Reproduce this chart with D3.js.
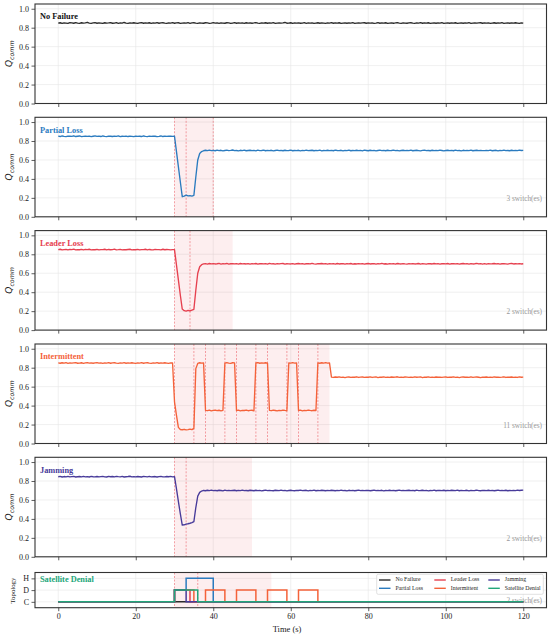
<!DOCTYPE html>
<html>
<head>
<meta charset="utf-8">
<script src="https://cdn.jsdelivr.net/npm/d3@7"></script>
<style>
body { margin: 0; background: #fff; }
svg { display: block; font-family: "Liberation Serif", "Times New Roman", serif; }
</style>
</head>
<body>
<div id="chart"></div>
<script>
// sampling grid of the simulation (s)
var timeSec = d3.range(0, 120.5, 0.5);

// Q_comm per scenario, one value per 0.5 s (rows of 10 s)
var qNoFailure = [
.848,.852,.846,.851,.849,.845,.853,.850,.847,.854,.849,.846,.852,.848,.851,.857,.849,.846,.850,.853,
.847,.851,.849,.845,.852,.848,.850,.854,.847,.849,.853,.846,.850,.848,.855,.849,.846,.851,.848,.852,
.849,.845,.851,.853,.847,.850,.848,.852,.846,.851,.849,.854,.847,.850,.852,.848,.845,.851,.849,.853,
.847,.850,.852,.846,.849,.851,.848,.853,.846,.850,.852,.848,.845,.851,.849,.847,.852,.850,.846,.849,
.853,.848,.850,.846,.851,.849,.847,.852,.850,.845,.849,.853,.847,.851,.848,.850,.846,.852,.849,.851,
.847,.850,.854,.848,.846,.851,.849,.852,.847,.850,.848,.853,.846,.849,.851,.848,.850,.855,.847,.849,
.852,.846,.850,.848,.851,.847,.849,.853,.846,.850,.848,.851,.845,.849,.852,.847,.850,.848,.846,.851,
.849,.853,.847,.850,.848,.852,.846,.849,.851,.847,.850,.848,.853,.846,.849,.851,.848,.850,.852,.847,
.850,.848,.851,.846,.849,.853,.847,.850,.848,.852,.846,.849,.851,.847,.850,.854,.848,.846,.851,.849,
.847,.850,.852,.848,.846,.851,.849,.853,.847,.850,.848,.852,.846,.849,.851,.847,.850,.848,.853,.846,
.849,.851,.847,.850,.848,.852,.846,.849,.851,.847,.850,.848,.853,.846,.849,.851,.848,.850,.852,.847,
.850,.848,.851,.846,.849,.852,.847,.850,.848,.853,.846,.849,.851,.847,.850,.848,.852,.849,.846,.851,
.849];

var qPartialLoss = [
.851,.847,.853,.849,.846,.852,.850,.848,.855,.847,.850,.853,.846,.849,.852,.848,.851,.846,.850,.854,
.848,.851,.847,.853,.849,.846,.852,.850,.847,.851,.849,.854,.846,.850,.848,.852,.847,.851,.849,.846,
.852,.848,.850,.847,.853,.849,.846,.851,.848,.852,.850,.846,.849,.853,.847,.851,.848,.850,.852,.848,
.850,.690,.530,.370,.212,.218,.228,.220,.224,.219,.226,.420,.600,.668,.688,.697,.702,.698,.703,.699,
.701,.697,.704,.699,.702,.696,.700,.703,.698,.701,.705,.698,.700,.696,.702,.699,.703,.697,.700,.702,
.698,.701,.696,.703,.699,.700,.704,.697,.701,.698,.702,.696,.700,.703,.698,.701,.697,.702,.699,.700,
.703,.697,.700,.698,.702,.696,.701,.699,.704,.698,.700,.702,.697,.701,.699,.703,.696,.700,.698,.702,
.699,.701,.697,.703,.700,.698,.702,.696,.701,.699,.704,.697,.700,.698,.702,.699,.701,.696,.703,.700,
.697,.702,.699,.701,.696,.700,.703,.698,.701,.697,.702,.699,.700,.704,.698,.701,.696,.700,.702,.699,
.701,.698,.703,.697,.700,.702,.699,.696,.701,.703,.698,.700,.697,.702,.699,.701,.698,.703,.700,.696,
.700,.702,.698,.701,.697,.703,.699,.700,.696,.702,.698,.701,.699,.704,.697,.700,.702,.698,.701,.699,
.698,.701,.699,.703,.697,.700,.702,.696,.701,.699,.703,.698,.700,.697,.702,.699,.701,.698,.704,.700,
.701];

var qLeaderLoss = [
.849,.853,.847,.850,.852,.846,.851,.849,.854,.847,.850,.848,.852,.846,.851,.849,.853,.847,.850,.848,
.852,.846,.850,.849,.853,.847,.851,.848,.850,.854,.847,.849,.852,.846,.850,.848,.851,.853,.847,.850,
.848,.852,.846,.850,.849,.853,.847,.851,.848,.846,.852,.849,.850,.847,.853,.848,.851,.849,.846,.850,
.850,.690,.530,.370,.222,.205,.200,.208,.202,.210,.218,.420,.600,.668,.690,.698,.702,.697,.703,.699,
.702,.698,.700,.704,.697,.701,.699,.703,.696,.700,.702,.698,.701,.697,.703,.699,.700,.698,.702,.696,
.701,.699,.703,.697,.700,.702,.698,.701,.696,.704,.699,.700,.697,.702,.698,.701,.703,.697,.700,.699,
.698,.702,.697,.700,.703,.699,.701,.696,.700,.702,.698,.704,.699,.697,.701,.700,.703,.698,.701,.697,
.702,.699,.701,.697,.703,.698,.700,.702,.696,.701,.699,.703,.697,.700,.698,.702,.699,.701,.696,.700,
.703,.698,.700,.702,.697,.701,.699,.704,.698,.700,.696,.702,.699,.701,.697,.703,.700,.698,.702,.699,
.697,.701,.699,.702,.698,.700,.703,.697,.701,.699,.696,.702,.700,.698,.703,.699,.701,.697,.700,.702,
.699,.703,.697,.700,.702,.698,.701,.696,.700,.703,.699,.701,.697,.702,.698,.700,.704,.698,.701,.697,
.701,.697,.702,.699,.700,.703,.698,.701,.697,.700,.702,.699,.696,.701,.703,.698,.700,.699,.702,.698,
.700];

var qIntermittent = [
.850,.847,.852,.849,.853,.846,.850,.848,.851,.854,.847,.849,.852,.846,.850,.853,.848,.851,.847,.850,
.853,.848,.850,.846,.851,.849,.854,.847,.850,.852,.848,.846,.851,.849,.853,.847,.850,.848,.852,.849,
.846,.851,.849,.853,.847,.850,.852,.848,.846,.851,.849,.854,.847,.850,.848,.852,.849,.846,.851,.850,
.440,.300,.170,.148,.145,.150,.143,.147,.152,.146,.160,.790,.845,.852,.848,.851,.350,.346,.352,.344,
.349,.353,.347,.351,.345,.350,.848,.853,.849,.846,.852,.850,.347,.352,.344,.350,.348,.353,.346,.349,
.351,.345,.850,.853,.847,.851,.849,.852,.848,.350,.346,.352,.348,.344,.350,.347,.353,.349,.346,.851,
.848,.853,.849,.851,.348,.352,.345,.350,.347,.353,.349,.346,.351,.348,.850,.847,.852,.849,.853,.848,
.851,.700,.697,.702,.699,.703,.698,.701,.696,.700,.702,.698,.701,.699,.704,.697,.700,.702,.698,.701,
.699,.703,.697,.700,.702,.696,.701,.699,.703,.698,.700,.697,.702,.699,.701,.704,.698,.700,.697,.702,
.700,.698,.701,.697,.703,.699,.700,.702,.696,.701,.699,.703,.698,.700,.697,.702,.699,.701,.698,.700,
.702,.697,.700,.699,.703,.698,.701,.696,.700,.702,.699,.701,.697,.703,.698,.700,.702,.699,.696,.701,
.699,.702,.698,.700,.697,.703,.699,.701,.698,.700,.704,.697,.701,.699,.702,.698,.700,.697,.703,.699,
.700];

var qJamming = [
.845,.848,.842,.847,.844,.849,.843,.846,.848,.842,.845,.847,.843,.849,.844,.846,.842,.848,.845,.843,
.847,.843,.846,.849,.844,.842,.848,.845,.847,.843,.849,.846,.844,.848,.842,.845,.847,.850,.844,.846,
.843,.847,.845,.842,.848,.846,.844,.849,.843,.845,.847,.842,.846,.848,.844,.843,.847,.845,.849,.844,
.845,.720,.585,.455,.335,.338,.345,.349,.354,.360,.372,.520,.640,.680,.694,.700,.697,.702,.699,.703,
.698,.701,.697,.702,.700,.696,.703,.699,.701,.698,.700,.702,.697,.701,.699,.704,.698,.700,.697,.702,
.700,.697,.702,.699,.701,.696,.700,.703,.698,.701,.699,.697,.702,.700,.698,.703,.699,.701,.696,.700,
.702,.699,.697,.701,.700,.703,.698,.700,.702,.696,.701,.699,.703,.697,.700,.698,.702,.700,.697,.701,
.699,.702,.700,.697,.701,.699,.703,.698,.700,.696,.702,.699,.701,.697,.700,.703,.698,.701,.699,.700,
.701,.697,.700,.703,.698,.701,.699,.702,.696,.700,.698,.702,.699,.701,.697,.700,.703,.699,.701,.698,
.700,.702,.698,.701,.697,.703,.699,.700,.702,.698,.701,.696,.700,.699,.703,.697,.701,.700,.698,.702,
.697,.701,.699,.702,.700,.698,.703,.697,.701,.699,.700,.702,.696,.701,.698,.700,.703,.699,.697,.701,
.700,.698,.702,.699,.701,.697,.700,.703,.698,.701,.699,.702,.697,.700,.698,.701,.699,.703,.700,.702,
.703];

// active topology (C, D, H) per scenario as [time, level] change points
var topoNoFailure    = [[0,"C"],[120,"C"]];
var topoPartialLoss  = [[0,"C"],[30,"D"],[33,"H"],[40,"C"],[120,"C"]];
var topoLeaderLoss   = [[0,"C"],[30,"D"],[34,"C"],[120,"C"]];
var topoIntermittent = [[0,"C"],[30,"D"],[35,"C"],[38,"D"],[43,"C"],[46,"D"],[51,"C"],[54,"D"],[59,"C"],[62,"D"],[67,"C"],[120,"C"]];
var topoJamming      = [[0,"C"],[30,"D"],[33,"C"],[120,"C"]];
var topoSatellite    = [[0,"C"],[30,"D"],[36,"C"],[120,"C"]];

var scenarioNames  = ["No Failure", "Partial Loss", "Leader Loss", "Intermittent", "Jamming", "Satellite Denial"];
var scenarioColors = ["#2b2b2b", "#2b7bbf", "#e6404f", "#f4623a", "#483b9a", "#22a67a"];
var failureWindows = [null, [30, 40], [30, 45], [30, 70], [30, 50], [30, 55]];
var switchTimes    = [[], [30, 33, 40], [30, 34], [30, 35, 38, 43, 46, 51, 54, 59, 62, 67], [30, 33], [30, 36]];
var switchCounts   = [null, 3, 2, 11, 2, 2];

var xTicks = [0, 20, 40, 60, 80, 100, 120];
var qTicks = [0, 0.2, 0.4, 0.6, 0.8, 1.0];
var topoTicks = ["C", "D", "H"];

var qSeries = [qNoFailure, qPartialLoss, qLeaderLoss, qIntermittent, qJamming];
var topoSeries = [topoNoFailure, topoPartialLoss, topoLeaderLoss, topoIntermittent, topoJamming, topoSatellite];

var width = 550, height = 637;
var svg = d3.select("#chart").append("svg")
    .attr("width", width)
    .attr("height", height);

var x = d3.scaleLinear().domain([-6, 126]).range([35, 546.5]);
var panelTops = [4, 117.3, 230.6, 344, 457.3];
var panelH = 99.5;
var topoTop = 572.5, topoH = 35.2;

function drawWindow(g, idx, y0, y1) {
    var w = failureWindows[idx];
    if (w) {
	g.append("rect")
	    .attr("x", x(w[0]))
	    .attr("y", y0)
	    .attr("width", x(w[1]) - x(w[0]))
	    .attr("height", y1 - y0)
	    .attr("fill", "#e8404a")
	    .attr("fill-opacity", 0.09);
    }
    g.selectAll("line.sw")
	.data(switchTimes[idx])
	.enter().append("line")
	.attr("class", "sw")
	.attr("x1", function(d) { return x(d); })
	.attr("x2", function(d) { return x(d); })
	.attr("y1", y0).attr("y2", y1)
	.attr("stroke", "#e8404a")
	.attr("stroke-opacity", 0.6)
	.attr("stroke-width", 0.8)
	.attr("stroke-dasharray", "2,1.5");
}

function drawGrid(g, y, yVals, y0, y1) {
    g.selectAll("line.gx")
	.data(xTicks)
	.enter().append("line")
	.attr("x1", function(d) { return x(d); })
	.attr("x2", function(d) { return x(d); })
	.attr("y1", y0).attr("y2", y1)
	.attr("stroke", "#e6e6e6").attr("stroke-width", 0.6);
    g.selectAll("line.gy")
	.data(yVals)
	.enter().append("line")
	.attr("x1", x.range()[0]).attr("x2", x.range()[1])
	.attr("y1", function(d) { return y(d); })
	.attr("y2", function(d) { return y(d); })
	.attr("stroke", "#e6e6e6").attr("stroke-width", 0.6);
}

function styleAxis(sel) {
    sel.select(".domain").remove();
    sel.selectAll(".tick line").attr("stroke", "#333").attr("stroke-width", 0.8);
    sel.selectAll(".tick text")
	.attr("fill", "#222")
	.style("font-family", "'Liberation Serif', serif")
	.style("font-size", "8px");
}

function drawFrame(y0, h) {
    svg.append("rect")
	.attr("x", x.range()[0]).attr("y", y0)
	.attr("width", x.range()[1] - x.range()[0])
	.attr("height", h)
	.attr("fill", "none")
	.attr("stroke", "#333")
	.attr("stroke-width", 1.1);
}

// ---- Q_comm panels
qSeries.forEach(function(vals, i) {
    var top = panelTops[i];
    var bottom = top + panelH;
    var y = d3.scaleLinear().domain([0, 1.05]).range([bottom, top]);
    var g = svg.append("g");

    var clipId = "clip" + i;
    svg.append("clipPath").attr("id", clipId)
	.append("rect")
	.attr("x", x.range()[0]).attr("y", top)
	.attr("width", x.range()[1] - x.range()[0]).attr("height", panelH);

    drawGrid(g, y, qTicks, top, bottom);
    drawWindow(g, i, top, bottom);

    var line = d3.line()
	.x(function(d, k) { return x(timeSec[k]); })
	.y(function(d) { return y(d); });

    g.append("path")
	.datum(vals)
	.attr("clip-path", "url(#" + clipId + ")")
	.attr("d", line)
	.attr("fill", "none")
	.attr("stroke", scenarioColors[i])
	.attr("stroke-width", 1.35)
	.attr("stroke-linejoin", "round");

    var yAxis = svg.append("g")
	.attr("transform", "translate(" + x.range()[0] + ",0)")
	.call(d3.axisLeft(y).tickValues(qTicks).tickFormat(d3.format(".1f")).tickSize(3.5).tickPadding(2.5));
    styleAxis(yAxis);

    var xAxis = svg.append("g")
	.attr("transform", "translate(0," + bottom + ")")
	.call(d3.axisBottom(x).tickValues(xTicks).tickFormat("").tickSize(3.5));
    styleAxis(xAxis);

    drawFrame(top, panelH);

    svg.append("text")
	.attr("x", 40).attr("y", top + 15.4)
	.attr("fill", i === 0 ? "#111" : scenarioColors[i])
	.style("font-weight", "bold")
	.style("font-size", "8.3px")
	.text(scenarioNames[i]);

    if (switchCounts[i] !== null) {
	svg.append("text")
	    .attr("x", 542).attr("y", bottom - 15.8)
	    .attr("text-anchor", "end")
	    .attr("fill", "#999")
	    .style("font-size", "7.3px")
	    .text(switchCounts[i] + " switch(es)");
    }

    var ql = svg.append("text")
	.attr("transform", "translate(12," + (top + panelH / 2) + ") rotate(-90)")
	.attr("text-anchor", "middle")
	.style("font-family", "'DejaVu Sans', sans-serif")
	.attr("fill", "#222");
    ql.append("tspan").style("font-style", "italic").style("font-size", "9px").text("Q");
    ql.append("tspan").style("font-style", "italic").style("font-size", "6.3px").attr("dy", 2).text("comm");
});

// ---- topology panel
(function() {
    var top = topoTop, bottom = topoTop + topoH;
    var yNum = d3.scaleLinear().domain([-0.5, 2.5]).range([bottom, top]);
    var levelIndex = { C: 0, D: 1, H: 2 };
    var y = function(lvl) { return yNum(levelIndex[lvl]); };
    var g = svg.append("g");

    svg.append("clipPath").attr("id", "clipTopo")
	.append("rect")
	.attr("x", x.range()[0]).attr("y", top)
	.attr("width", x.range()[1] - x.range()[0]).attr("height", topoH);

    drawGrid(g, y, topoTicks, top, bottom);
    drawWindow(g, 5, top, bottom);

    g.append("text")
	.attr("x", 542).attr("y", bottom - 6.7)
	.attr("text-anchor", "end")
	.attr("dominant-baseline", "middle")
	.attr("fill", "#999")
	.style("font-size", "7.3px")
	.text(switchCounts[5] + " switch(es)");

    var line = d3.line()
	.curve(d3.curveStepAfter)
	.x(function(d) { return x(d[0]); })
	.y(function(d) { return y(d[1]); });

    topoSeries.forEach(function(pts, i) {
	g.append("path")
	    .datum(pts)
	    .attr("clip-path", "url(#clipTopo)")
	    .attr("d", line)
	    .attr("fill", "none")
	    .attr("stroke", scenarioColors[i])
	    .attr("stroke-width", 1.5);
    });

    var yScaleAxis = d3.scalePoint().domain(topoTicks).range([y("C"), y("H")]);
    var yAxis = svg.append("g")
	.attr("transform", "translate(" + x.range()[0] + ",0)")
	.call(d3.axisLeft(yScaleAxis).tickSize(3.5).tickPadding(2.5));
    styleAxis(yAxis);

    var xAxis = svg.append("g")
	.attr("transform", "translate(0," + bottom + ")")
	.call(d3.axisBottom(x).tickValues(xTicks).tickFormat(d3.format("d")).tickSize(3.5).tickPadding(2.5));
    styleAxis(xAxis);

    drawFrame(top, topoH);

    svg.append("text")
	.attr("x", 40).attr("y", top + 9.5)
	.attr("fill", scenarioColors[5])
	.style("font-weight", "bold")
	.style("font-size", "8.3px")
	.text(scenarioNames[5]);

    svg.append("text")
	.attr("transform", "translate(15," + (top + topoH / 2 + 0.5) + ") rotate(-90)")
	.attr("text-anchor", "middle")
	.attr("fill", "#222")
	.style("font-size", "6.8px")
	.text("Topology");

    svg.append("text")
	.attr("x", 287).attr("y", 632)
	.attr("text-anchor", "middle")
	.attr("fill", "#222")
	.style("font-size", "8.5px")
	.text("Time (s)");

    // legend, 3 columns x 2 rows
    var lg = svg.append("g");
    lg.append("rect")
	.attr("x", 376.7).attr("y", 574.3)
	.attr("width", 166.6).attr("height", 20)
	.attr("rx", 1.5)
	.attr("fill", "#fff").attr("fill-opacity", 0.85)
	.attr("stroke", "#ccc").attr("stroke-width", 0.6);
    var colX = [379, 434.3, 488.3];
    var rowY = [580, 588.3];
    scenarioNames.forEach(function(name, i) {
	var cx = colX[Math.floor(i / 2)], cy = rowY[i % 2];
	lg.append("line")
	    .attr("x1", cx).attr("x2", cx + 11.5)
	    .attr("y1", cy).attr("y2", cy)
	    .attr("stroke", scenarioColors[i]).attr("stroke-width", 1.4);
	lg.append("text")
	    .attr("x", cx + 16.5).attr("y", cy)
	    .attr("dominant-baseline", "middle")
	    .attr("fill", "#222")
	    .style("font-size", "5.8px")
	    .text(name);
    });
})();
</script>
</body>
</html>
